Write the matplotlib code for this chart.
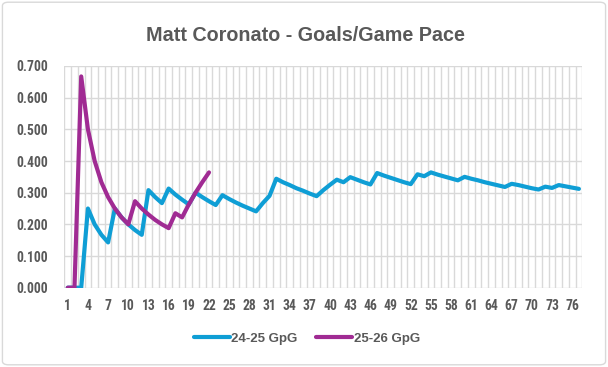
import matplotlib
matplotlib.use("Agg")
import matplotlib.pyplot as plt
from matplotlib import font_manager
from matplotlib.patches import FancyBboxPatch
import numpy as np

# ---- data ----
games = list(range(1, 78))
gpg_2425 = [0.000, 0.000, 0.000, 0.250, 0.200, 0.167, 0.143, 0.250, 0.222, 0.200,
            0.182, 0.167, 0.308, 0.286, 0.267, 0.313, 0.294, 0.278, 0.263, 0.300,
            0.286, 0.273, 0.261, 0.292, 0.280, 0.269, 0.259, 0.250, 0.241, 0.267,
            0.290, 0.344, 0.333, 0.324, 0.314, 0.306, 0.297, 0.289, 0.308, 0.325,
            0.341, 0.333, 0.349, 0.341, 0.333, 0.326, 0.362, 0.354, 0.347, 0.340,
            0.333, 0.327, 0.358, 0.352, 0.364, 0.357, 0.351, 0.345, 0.339, 0.350,
            0.344, 0.339, 0.333, 0.328, 0.323, 0.318, 0.328, 0.324, 0.319, 0.314,
            0.310, 0.319, 0.315, 0.324, 0.320, 0.316, 0.312]
gpg_2526 = [0.000, 0.000, 0.667, 0.500, 0.400, 0.333, 0.286, 0.250, 0.222, 0.200,
            0.273, 0.250, 0.231, 0.214, 0.200, 0.188, 0.235, 0.222, 0.263, 0.300,
            0.333, 0.364]
series_names = ["24-25 GpG", "25-26 GpG"]
title = "Matt Coronato - Goals/Game Pace"
xtick_labels = [str(g) for g in games[::3]]
yticks = [0.0, 0.1, 0.2, 0.3, 0.4, 0.5, 0.6, 0.7]

# ---- fonts ----
avail = {f.name for f in font_manager.fontManager.ttflist}
narrow = [f for f in ["Liberation Sans Narrow", "Roboto Condensed", "Liberation Sans", "DejaVu Sans"] if f in avail]
wide = [f for f in ["Liberation Sans", "DejaVu Sans"] if f in avail]
plt.rcParams['font.family'] = narrow

TXT = "#595959"
GRID = "#D9D9D9"

fig = plt.figure(figsize=(6.08, 3.67), dpi=100)
fig.patch.set_facecolor("white")
border = FancyBboxPatch((0.004, 0.006), 0.992, 0.988, boxstyle="round,pad=0,rounding_size=0.01",
                        transform=fig.transFigure, facecolor="none", edgecolor=GRID, lw=1.0,
                        zorder=-1)
fig.patches.append(border)

ax = fig.add_axes([0.1059, 0.2161, 0.9577 - 0.1059, 0.8202 - 0.2161])
ax.set_facecolor("none")

ax.plot(games, gpg_2425, color="#0F9ED5", lw=3.0, label=series_names[0],
        solid_joinstyle="round", solid_capstyle="round", zorder=3)
ax.plot(games[:len(gpg_2526)], gpg_2526, color="#A02B93", lw=3.0, label=series_names[1],
        solid_joinstyle="round", solid_capstyle="round", zorder=4)

ax.set_xlim(0.5, len(games) + 0.5)
ax.set_ylim(0, 0.7)
ax.set_yticks(yticks)
ax.set_yticklabels([f"{v:.3f}" for v in yticks], fontsize=9.8, fontweight="bold", color=TXT)
ax.set_xticks(games[::3])
ax.set_xticklabels(xtick_labels, fontsize=9.8, fontweight="bold", color=TXT)
ax.tick_params(axis="both", which="both", length=0)
ax.tick_params(axis="y", pad=12)
ax.tick_params(axis="x", pad=8)

ax.grid(False)
for y in yticks:
    ax.axhline(y, color=GRID, lw=1.0, zorder=1)
for x in np.arange(0.5, len(games) + 1, 1):
    ax.axvline(x, color=GRID, lw=1.0, zorder=1)
for s in ax.spines.values():
    s.set_visible(False)

fig.text(0.503, 0.902, title, ha="center", va="center", fontsize=14.2, fontweight="bold",
         color=TXT, family=wide)

leg = fig.legend(loc="center", bbox_to_anchor=(0.505, 0.077), ncol=2, frameon=False,
                 handlelength=2.7, columnspacing=1.4, handletextpad=0.12,
                 prop={"size": 9.5, "weight": "bold", "family": wide})
for t in leg.get_texts():
    t.set_color(TXT)

fig.savefig("out.png", dpi=100)
